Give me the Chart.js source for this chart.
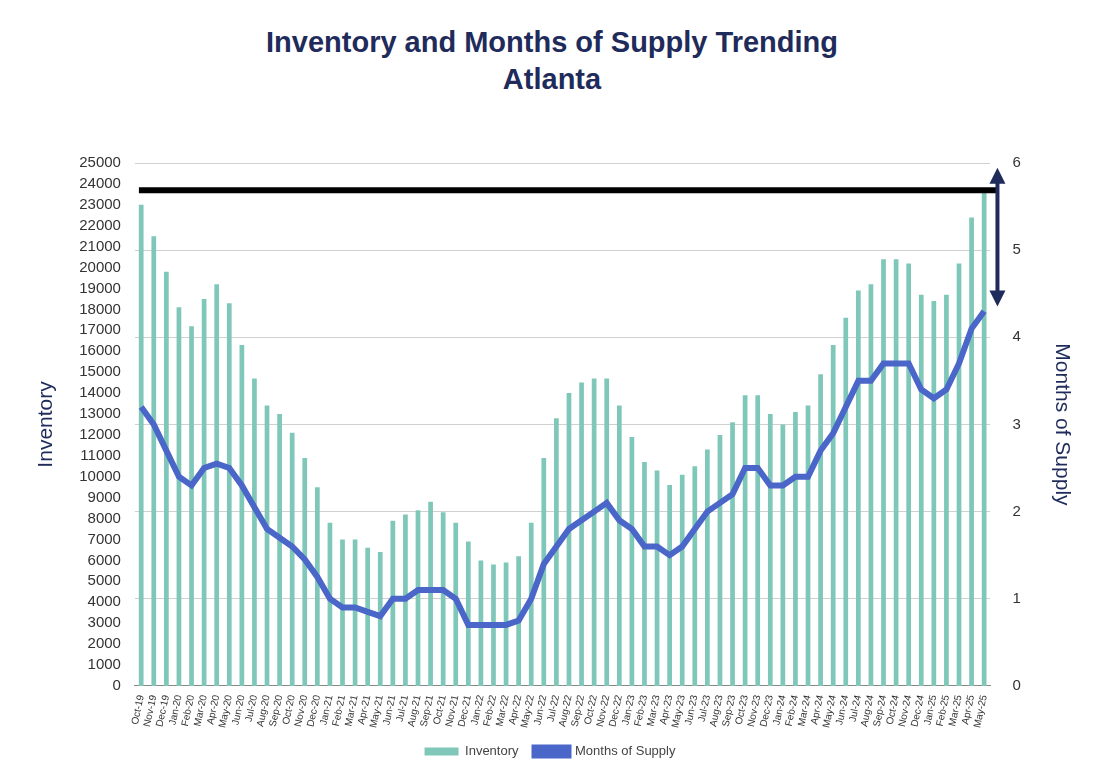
<!DOCTYPE html>
<html>
<head>
<meta charset="utf-8">
<script src="https://cdn.jsdelivr.net/npm/chart.js@4"></script>
<style>
  body { margin: 0; background: #fff; font-family: Arial, "Liberation Sans", sans-serif; }
  #wrap { position: relative; width: 1094px; height: 772px; }
  h1 { position: absolute; top: 24px; left: 0; width: 1104px; margin: 0; text-align: center;
       font-size: 29px; line-height: 37px; color: #1f2b5b; font-weight: bold; }
  #box { position: absolute; top: 132px; left: 0; width: 1094px; height: 640px; }
</style>
</head>
<body>
<div id="wrap">
  <h1>Inventory and Months of Supply Trending<br>Atlanta</h1>
  <div id="box"><canvas id="c"></canvas></div>
</div>
<script>
const months = ['Oct-19','Nov-19','Dec-19',
  'Jan-20','Feb-20','Mar-20','Apr-20','May-20','Jun-20','Jul-20','Aug-20','Sep-20','Oct-20','Nov-20','Dec-20',
  'Jan-21','Feb-21','Mar-21','Apr-21','May-21','Jun-21','Jul-21','Aug-21','Sep-21','Oct-21','Nov-21','Dec-21',
  'Jan-22','Feb-22','Mar-22','Apr-22','May-22','Jun-22','Jul-22','Aug-22','Sep-22','Oct-22','Nov-22','Dec-22',
  'Jan-23','Feb-23','Mar-23','Apr-23','May-23','Jun-23','Jul-23','Aug-23','Sep-23','Oct-23','Nov-23','Dec-23',
  'Jan-24','Feb-24','Mar-24','Apr-24','May-24','Jun-24','Jul-24','Aug-24','Sep-24','Oct-24','Nov-24','Dec-24',
  'Jan-25','Feb-25','Mar-25','Apr-25','May-25'];

const inventory = [23000,21500,19800,
  18100,17200,18500,19200,18300,16300,14700,13400,13000,12100,10900,9500,
  7800,7000,7000,6600,6400,7900,8200,8400,8800,8300,7800,6900,
  6000,5800,5900,6200,7800,10900,12800,14000,14500,14700,14700,13400,
  11900,10700,10300,9600,10100,10500,11300,12000,12600,13900,13900,13000,
  12500,13100,13400,14900,16300,17600,18900,19200,20400,20400,20200,18700,
  18400,18700,20200,22400,23600];

const monthsSupply = [3.2,3.0,2.7,
  2.4,2.3,2.5,2.55,2.5,2.3,2.05,1.8,1.7,1.6,1.45,1.25,
  1.0,0.9,0.9,0.85,0.8,1.0,1.0,1.1,1.1,1.1,1.0,0.7,
  0.7,0.7,0.7,0.75,1.0,1.4,1.6,1.8,1.9,2.0,2.1,1.9,
  1.8,1.6,1.6,1.5,1.6,1.8,2.0,2.1,2.2,2.5,2.5,2.3,
  2.3,2.4,2.4,2.7,2.9,3.2,3.5,3.5,3.7,3.7,3.7,3.4,
  3.3,3.4,3.7,4.1,4.3];

// reference level (inventory) and arrow span (months of supply)
const peakLine = 23700;
const arrowSpan = [5.9, 4.4];

const navy = '#1f2b5b';

const overlay = {
  id: 'overlay',
  afterDatasetsDraw(chart) {
    const ctx = chart.ctx, a = chart.chartArea;
    const yL = chart.scales.y, yR = chart.scales.y1;
    const py = yL.getPixelForValue(peakLine);
    ctx.save();
    ctx.strokeStyle = '#000';
    ctx.lineWidth = 6;
    ctx.beginPath();
    ctx.moveTo(a.left + 4, py);
    ctx.lineTo(a.right + 6, py);
    ctx.stroke();
    // double arrow
    const ax = a.right + 7;
    const t = yR.getPixelForValue(arrowSpan[0]), b = yR.getPixelForValue(arrowSpan[1]);
    ctx.strokeStyle = navy; ctx.fillStyle = navy; ctx.lineWidth = 4;
    ctx.beginPath(); ctx.moveTo(ax, t + 8); ctx.lineTo(ax, b - 8); ctx.stroke();
    ctx.beginPath(); ctx.moveTo(ax, t - 4); ctx.lineTo(ax - 8, t + 12); ctx.lineTo(ax + 8, t + 12); ctx.closePath(); ctx.fill();
    ctx.beginPath(); ctx.moveTo(ax, b + 4); ctx.lineTo(ax - 8, b - 12); ctx.lineTo(ax + 8, b - 12); ctx.closePath(); ctx.fill();
    ctx.restore();
  }
};

new Chart(document.getElementById('c'), {
  data: {
    labels: months,
    datasets: [
      { type: 'line', label: 'Months of Supply', data: monthsSupply, yAxisID: 'y1',
        borderColor: '#4a66c8', backgroundColor: '#4a66c8', borderWidth: 6, pointRadius: 0, tension: 0, order: 0 },
      { type: 'bar', label: 'Inventory', data: inventory, yAxisID: 'y',
        backgroundColor: '#7fc7b8', barPercentage: 0.75, categoryPercentage: 0.5, order: 1 }
    ]
  },
  options: {
    responsive: true,
    maintainAspectRatio: false,
    animation: false,
    layout: { padding: { left: 20, right: 14, top: 20, bottom: 4 } },
    plugins: {
      legend: {
        position: 'bottom', reverse: true,
        labels: { color: '#444', font: { size: 13 }, boxWidth: 34, boxHeight: 8, padding: 16 }
      },
      tooltip: { enabled: false }
    },
    scales: {
      x: {
        grid: { display: false, drawTicks: true },
        border: { color: '#888' },
        ticks: { color: '#333', font: { size: 10 }, maxRotation: 78, minRotation: 78, autoSkip: false, padding: 0 }
      },
      y: {
        position: 'left', min: 0, max: 25000,
        ticks: { stepSize: 1000, autoSkip: false, color: '#333', font: { size: 15 }, padding: 6,
                 callback: v => String(v) },
        grid: { display: false },
        border: { display: false },
        title: { display: true, text: 'Inventory', color: navy, font: { size: 21 }, padding: 14 }
      },
      y1: {
        position: 'right', min: 0, max: 6,
        ticks: { stepSize: 1, color: '#333', font: { size: 15 }, padding: 22 },
        grid: { color: '#d0d0d0', drawTicks: false },
        border: { display: false },
        title: { display: true, text: 'Months of Supply', color: navy, font: { size: 21 }, padding: 6 }
      }
    }
  },
  plugins: [overlay]
});
</script>
</body>
</html>
